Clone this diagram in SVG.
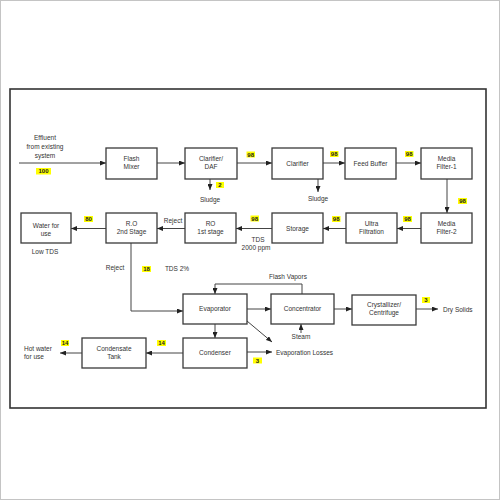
<svg xmlns="http://www.w3.org/2000/svg" width="500" height="500" viewBox="0 0 500 500">
<style>
.box{fill:#fff;stroke:#3a3a3a;stroke-width:1.3}
.t{font-family:"Liberation Sans",Arial,sans-serif;font-size:6.5px;fill:#333;text-anchor:middle}
.l{text-anchor:start}
.hl{fill:#ffff00}
.n{font-family:"Liberation Sans",Arial,sans-serif;font-size:6px;font-weight:bold;fill:#222;text-anchor:middle}
.c{fill:none;stroke:#444;stroke-width:1}
.a{marker-end:url(#ah)}
</style>
<defs>
<marker id="ah" markerUnits="userSpaceOnUse" markerWidth="6" markerHeight="5" refX="6" refY="2.5" orient="auto">
<path d="M0,0 L6,2.5 L0,5 z" fill="#222"/>
</marker>
</defs>
<rect x="0.5" y="0.5" width="499" height="499" fill="#fff" stroke="#c4c4c4" stroke-width="1"/>
<rect x="10" y="89" width="476" height="319" fill="#fff" stroke="#333" stroke-width="1.6"/>

<g id="connectors">
<path class="c a" d="M19,163 H106"/>
<path class="c a" d="M157,163 H185"/>
<path class="c a" d="M237,163 H272"/>
<path class="c a" d="M323,163 H345"/>
<path class="c a" d="M396,163 H421"/>
<path class="c a" d="M447,179 V213"/>
<path class="c a" d="M210,179 V190"/>
<path class="c a" d="M318,179 V192"/>
<path class="c a" d="M421,228.5 H397"/>
<path class="c a" d="M346,228.5 H323"/>
<path class="c a" d="M272,228.5 H236"/>
<path class="c a" d="M185,228.5 H157"/>
<path class="c a" d="M106,228.5 H71"/>
<path class="c a" d="M131,243 V311 H183"/>
<path class="c a" d="M247,309 H271"/>
<path class="c a" d="M334,309 H352"/>
<path class="c a" d="M416,309 H438"/>
<path class="c a" d="M301,333 V324"/>
<path class="c a" d="M302,294 V284 H215 V294"/>
<path class="c a" d="M215,324 V338"/>
<path class="c a" d="M247,352 H272"/>
<path class="c a" d="M247,321 L272,342"/>
<path class="c a" d="M183,353 H146"/>
<path class="c a" d="M82,353 H60"/>
</g>

<g id="flash-mixer"><rect class="box" x="106" y="148" width="51" height="31"/><text class="t" x="131.5" y="161.3">Flash</text><text class="t" x="131.5" y="169.3">Mixer</text></g>
<g id="clarifier-daf"><rect class="box" x="185" y="148" width="52" height="31"/><text class="t" x="211" y="161.3">Clarifier/</text><text class="t" x="211" y="169.3">DAF</text></g>
<g id="clarifier"><rect class="box" x="272" y="148" width="51" height="31"/><text class="t" x="297.5" y="165.6">Clarifier</text></g>
<g id="feed-buffer"><rect class="box" x="345" y="148" width="51" height="31"/><text class="t" x="370.5" y="165.6">Feed Buffer</text></g>
<g id="media-filter-1"><rect class="box" x="421" y="148" width="51" height="31"/><text class="t" x="446.5" y="161.3">Media</text><text class="t" x="446.5" y="169.3">Filter-1</text></g>

<g id="water-for-use"><rect class="box" x="21" y="213" width="50" height="30"/><text class="t" x="46" y="228.3">Water for</text><text class="t" x="46" y="236.3">use</text></g>
<g id="ro-2nd"><rect class="box" x="106" y="213" width="51" height="30"/><text class="t" x="131.5" y="226.3">R.O</text><text class="t" x="131.5" y="234.3">2nd Stage</text></g>
<g id="ro-1st"><rect class="box" x="185" y="213" width="51" height="30"/><text class="t" x="210.5" y="226.3">RO</text><text class="t" x="210.5" y="234.3">1st stage</text></g>
<g id="storage"><rect class="box" x="272" y="213" width="51" height="30"/><text class="t" x="297.5" y="230.6">Storage</text></g>
<g id="ultra-filtration"><rect class="box" x="346" y="213" width="51" height="30"/><text class="t" x="371.5" y="226.3">Ultra</text><text class="t" x="371.5" y="234.3">Filtration</text></g>
<g id="media-filter-2"><rect class="box" x="421" y="213" width="51" height="30"/><text class="t" x="446.5" y="226.3">Media</text><text class="t" x="446.5" y="234.3">Filter-2</text></g>

<g id="evaporator"><rect class="box" x="183" y="294" width="64" height="30"/><text class="t" x="215" y="311.3">Evaporator</text></g>
<g id="concentrator"><rect class="box" x="271" y="294" width="63" height="30"/><text class="t" x="302.5" y="311.3">Concentrator</text></g>
<g id="crystallizer"><rect class="box" x="352" y="295" width="64" height="30"/><text class="t" x="384" y="307.3">Crystallizer/</text><text class="t" x="384" y="315.3">Centrifuge</text></g>
<g id="condenser"><rect class="box" x="183" y="338" width="64" height="30"/><text class="t" x="215" y="355.3">Condenser</text></g>
<g id="condensate-tank"><rect class="box" x="82" y="338" width="64" height="30"/><text class="t" x="114" y="351.3">Condensate</text><text class="t" x="114" y="359.3">Tank</text></g>

<g id="labels">
<text class="t" x="45" y="140.3">Effluent</text>
<text class="t" x="45" y="149.3">from existing</text>
<text class="t" x="45" y="157.5">system</text>
<text class="t" x="210" y="202">Sludge</text>
<text class="t" x="318" y="201">Sludge</text>
<text class="t" x="173" y="223">Reject</text>
<text class="t" x="45" y="254.3">Low TDS</text>
<text class="t" x="115" y="270.3">Reject</text>
<text class="t" x="177" y="271.3">TDS 2%</text>
<text class="t" x="258" y="242.3">TDS</text>
<text class="t" x="256" y="250.3">2000 ppm</text>
<text class="t" x="288" y="279.3">Flash Vapors</text>
<text class="t" x="301" y="339.3">Steam</text>
<text class="t l" x="443" y="311.5">Dry Solids</text>
<text class="t l" x="276" y="354.5">Evaporation Losses</text>
<text class="t l" x="24" y="351.3">Hot water</text>
<text class="t l" x="24" y="359.3">for use</text>
</g>

<g id="flow-values">
<rect class="hl" x="36" y="168" width="15" height="6.5"/><text class="n" x="43.5" y="173.3">100</text>
<rect class="hl" x="216" y="182" width="8" height="6"/><text class="n" x="220" y="187">2</text>
<rect class="hl" x="246.5" y="151.5" width="8.5" height="6"/><text class="n" x="250.7" y="156.5">98</text>
<rect class="hl" x="330" y="151" width="8.5" height="6"/><text class="n" x="334.2" y="156">98</text>
<rect class="hl" x="405" y="151" width="8.5" height="6"/><text class="n" x="409.2" y="156">98</text>
<rect class="hl" x="458" y="198" width="9" height="6"/><text class="n" x="462.5" y="203">98</text>
<rect class="hl" x="403" y="216" width="9" height="6"/><text class="n" x="407.5" y="221">98</text>
<rect class="hl" x="332" y="216" width="8.5" height="6"/><text class="n" x="336.2" y="221">98</text>
<rect class="hl" x="250.5" y="215.5" width="8.5" height="6"/><text class="n" x="254.7" y="220.5">98</text>
<rect class="hl" x="84" y="216" width="9" height="6"/><text class="n" x="88.5" y="221">80</text>
<rect class="hl" x="142" y="266" width="9" height="6"/><text class="n" x="146.5" y="271">18</text>
<rect class="hl" x="422" y="297" width="8" height="6"/><text class="n" x="426" y="302">3</text>
<rect class="hl" x="253" y="357.5" width="9" height="6"/><text class="n" x="257.5" y="362.5">3</text>
<rect class="hl" x="61" y="340" width="8" height="6"/><text class="n" x="65" y="345">14</text>
<rect class="hl" x="157" y="340" width="9" height="6"/><text class="n" x="161.5" y="345">14</text>
</g>
</svg>
